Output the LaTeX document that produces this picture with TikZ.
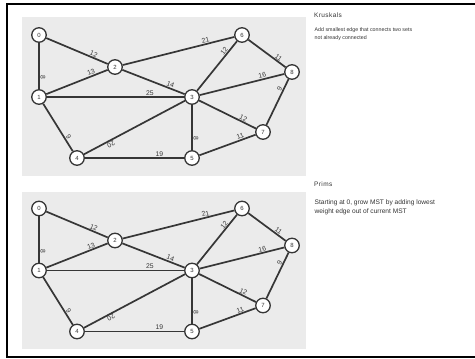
\documentclass[tikz,border=0pt]{standalone}
\usepackage{fontspec}
\setmainfont{Liberation Sans}
\newfontfamily\titlefont[LetterSpace=6]{Liberation Sans}
\usetikzlibrary{positioning}
\definecolor{edgec}{HTML}{363636}
\definecolor{panelc}{HTML}{EBEBEB}
\definecolor{textc}{HTML}{333333}

\begin{document}
\begin{tikzpicture}[x=1pt,y=-1pt,
    vtx/.style={circle,draw=edgec,fill=white,line width=1.3pt,minimum size=14.5pt,inner sep=0pt,
      font=\fontsize{6}{6}\selectfont,text=edgec},
    link/.style={draw=edgec,line width=1.7pt},
    wt/.style={pos=0.75,sloped,allow upside down,above,inner sep=0.6pt,
      font=\fontsize{6.8}{7}\selectfont,text=edgec}]
  \useasboundingbox (0,0) rectangle (475,359);
  % Frame
  \draw[line width=2pt] (480,4) -- (6.5,4) -- (6.5,356.5) -- (480,356.5);
  % Panels
  \fill[panelc] (22,17) rectangle (306,176);
  \fill[panelc] (22,192) rectangle (306,349);

  % Graphs (k = Kruskals, p = Prims)
  \foreach \g/\dy in {k/0,p/173.5}{
    \begin{scope}[shift={(0,\dy)}]
      % Vertices
      \node[vtx] (\g0) at (39,35) {0};
      \node[vtx] (\g1) at (39,97) {1};
      \node[vtx] (\g2) at (115,67) {2};
      \node[vtx] (\g3) at (192,97) {3};
      \node[vtx] (\g4) at (77,158) {4};
      \node[vtx] (\g5) at (192,158) {5};
      \node[vtx] (\g6) at (242,35) {6};
      \node[vtx] (\g7) at (263,132) {7};
      \node[vtx] (\g8) at (292,72) {8};
      % Weighted edges
      \draw[link] (\g0) -- node[wt]{12} (\g2);
      \draw[link] (\g0) -- node[wt]{8} (\g1);
      \draw[link] (\g1) -- node[wt]{13} (\g2);
      \draw[link] (\g1) -- node[wt]{25} (\g3);
      \draw[link] (\g1) -- node[wt]{9} (\g4);
      \draw[link] (\g2) -- node[wt]{21} (\g6);
      \draw[link] (\g2) -- node[wt]{14} (\g3);
      \draw[link] (\g3) -- node[wt]{12} (\g6);
      \draw[link] (\g3) -- node[wt]{16} (\g8);
      \draw[link] (\g3) -- node[wt]{12} (\g7);
      \draw[link] (\g3) -- node[wt]{20} (\g4);
      \draw[link] (\g3) -- node[wt]{8} (\g5);
      \draw[link] (\g4) -- node[wt]{19} (\g5);
      \draw[link] (\g5) -- node[wt]{11} (\g7);
      \draw[link] (\g6) -- node[wt]{11} (\g8);
      \draw[link] (\g7) -- node[wt]{9} (\g8);
    \end{scope}
  }

  % Notes
  \node[anchor=west,inner sep=0pt,text=textc,font=\titlefont\fontsize{6.5}{7}\selectfont] (ktitle) at (314,15) {Kruskals};
  \node[anchor=north west,align=left,inner sep=0pt,text=textc,font=\fontsize{5.3}{8}\selectfont] (knote) at (314.5,27.5)
    {Add smallest edge that connects two sets\\not already connected};
  \node[anchor=west,inner sep=0pt,text=textc,font=\titlefont\fontsize{6.5}{7}\selectfont] (ptitle) at (314,184) {Prims};
  \node[anchor=north west,align=left,inner sep=0pt,text=textc,font=\fontsize{6.6}{9}\selectfont] (pnote) at (314.5,200)
    {Starting at 0, grow MST by adding lowest\\weight edge out of current MST};
\end{tikzpicture}
\end{document}
